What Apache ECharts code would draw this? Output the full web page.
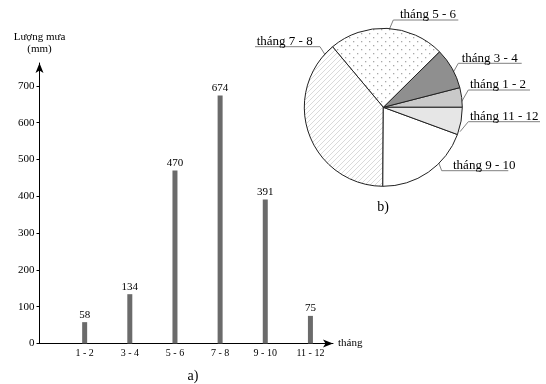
<!DOCTYPE html>
<html>
<head>
<meta charset="utf-8">
<script src="https://cdn.jsdelivr.net/npm/echarts@6/dist/echarts.min.js"></script>
<style>
html,body{margin:0;padding:0;background:#fff;}
#chart{width:546px;height:384px;}
</style>
</head>
<body>
<div id="chart"></div>
<script>
// ---- data ----
const categories = ['1 - 2', '3 - 4', '5 - 6', '7 - 8', '9 - 10', '11 - 12'];
const rainfall = [58, 134, 470, 674, 391, 75];
const yTicks = [0, 100, 200, 300, 400, 500, 600, 700];
const pieNames = ['tháng 1 - 2', 'tháng 3 - 4', 'tháng 5 - 6', 'tháng 7 - 8', 'tháng 9 - 10', 'tháng 11 - 12'];
const pieShares = [4.0, 8.4, 23.7, 38.8, 19.5, 5.6];

// ---- styling / layout ----
const FONT = '"Liberation Serif", "DejaVu Serif", serif';
function makePattern(kind) {
  const c = document.createElement('canvas');
  const ctx = c.getContext('2d');
  if (kind === 'dots') {
    c.width = 8; c.height = 8;
    ctx.fillStyle = '#fff'; ctx.fillRect(0, 0, 8, 8);
    ctx.fillStyle = '#a8a8a8';
    ctx.fillRect(1, 1, 1.3, 1.3);
    ctx.fillRect(5, 5, 1.3, 1.3);
  } else {
    c.width = 5; c.height = 5;
    ctx.fillStyle = '#fff'; ctx.fillRect(0, 0, 5, 5);
    ctx.strokeStyle = '#d0d0d0'; ctx.lineWidth = 0.8;
    ctx.beginPath();
    ctx.moveTo(-1, 6); ctx.lineTo(6, -1);
    ctx.moveTo(-1, 1); ctx.lineTo(1, -1);
    ctx.moveTo(4, 6); ctx.lineTo(6, 4);
    ctx.stroke();
  }
  return { image: c, repeat: 'repeat' };
}
const sliceFills = ['#c9c9c9', '#8f8f8f', makePattern('dots'), makePattern('hatch'), '#ffffff', '#e6e6e6'];
// label annotation layout: anchor (ax, ay), corner x (cx), underline y (ly), end x (ex), text x (tx)
const pieLabelLayout = [
  { ax: 460.7, ay: 103.3, cx: 468.3, ly: 90, ex: 530, tx: 470 },
  { ax: 451.7, ay: 75, cx: 458.3, ly: 63.3, ex: 521.7, tx: 461.7 },
  { ax: 388.3, ay: 31.7, cx: 393.3, ly: 20, ex: 458.3, tx: 400 },
  { ax: 327.3, ay: 58.3, cx: 320, ly: 46.7, ex: 255, tx: 256.7 },
  { ax: 438.3, ay: 161.7, cx: 441.7, ly: 170.7, ex: 508.3, tx: 453 },
  { ax: 460, ay: 131.7, cx: 468.3, ly: 121.7, ex: 540, tx: 470 }
];

const chart = echarts.init(document.getElementById('chart'), null, { renderer: 'canvas' });
chart.setOption({
  animation: false,
  backgroundColor: '#fff',
  textStyle: { fontFamily: FONT },
  grid: { left: 39.5, top: 63, width: 293.5, height: 280.5, outerBoundsMode: 'none', containLabel: false },
  xAxis: {
    type: 'value', min: 0, max: 6.5, interval: 1,
    name: 'tháng', nameLocation: 'end', nameGap: 5,
    nameTextStyle: { fontFamily: FONT, fontSize: 11, color: '#000', verticalAlign: 'middle' },
    axisLine: { show: true, lineStyle: { color: '#000', width: 1 }, symbol: ['none', 'arrow'], symbolSize: [6, 10] },
    axisTick: { show: false },
    splitLine: { show: false },
    axisLabel: {
      customValues: [1, 2, 3, 4, 5, 6], margin: 5,
      fontFamily: FONT, fontSize: 10, color: '#000',
      formatter: v => categories[Math.round(v) - 1] || ''
    }
  },
  yAxis: {
    type: 'value', min: 0, max: 762, interval: 100,
    name: 'Lượng mưa\n(mm)', nameLocation: 'end', nameGap: 8,
    nameTextStyle: { fontFamily: FONT, fontSize: 11, color: '#000', align: 'center', lineHeight: 12 },
    axisLine: { show: true, lineStyle: { color: '#000', width: 1 }, symbol: ['none', 'arrow'], symbolSize: [6, 10] },
    axisTick: { show: true, customValues: yTicks, length: 3, lineStyle: { color: '#000' } },
    splitLine: { show: false },
    axisLabel: { customValues: yTicks, margin: 5, fontFamily: FONT, fontSize: 11, color: '#000' }
  },
  series: [
    {
      type: 'bar',
      data: categories.map((c, i) => [i + 1, rainfall[i]]),
      barWidth: 5,
      itemStyle: { color: '#6b6b6b' },
      label: { show: true, position: 'top', distance: 2, fontFamily: FONT, fontSize: 11, color: '#000',
               formatter: p => p.value[1] },
      emphasis: { disabled: true }
    },
    {
      type: 'pie',
      center: [383.3, 107.3],
      radius: 79,
      startAngle: 0,
      clockwise: false,
      avoidLabelOverlap: false,
      data: pieNames.map((n, i) => ({ name: n, value: pieShares[i], itemStyle: { color: sliceFills[i] } })),
      itemStyle: { borderColor: '#222', borderWidth: 1 },
      label: { show: true, position: 'outside', formatter: '{b}', fontFamily: FONT, fontSize: 13, color: '#000' },
      labelLine: { show: true, smooth: false, lineStyle: { color: '#808080', width: 1 } },
      labelLayout: function (params) {
        const L = pieLabelLayout[params.dataIndex];
        return {
          x: L.tx, y: L.ly + 1.5, align: 'left', verticalAlign: 'bottom',
          labelLinePoints: [[L.ax, L.ay], [L.cx, L.ly], [L.ex, L.ly]]
        };
      },
      emphasis: { disabled: true }
    }
  ],
  graphic: [
    { type: 'text', x: 193, y: 376, style: { text: 'a)', fontFamily: FONT, fontSize: 14, fill: '#000', align: 'center', verticalAlign: 'middle' } },
    { type: 'text', x: 383, y: 207, style: { text: 'b)', fontFamily: FONT, fontSize: 14, fill: '#000', align: 'center', verticalAlign: 'middle' } }
  ]
});
</script>
</body>
</html>
